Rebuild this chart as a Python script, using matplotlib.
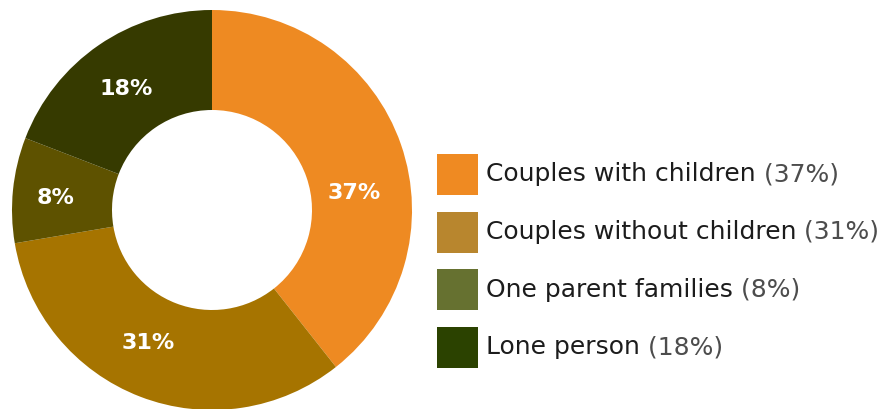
import matplotlib

matplotlib.use("Agg")
import matplotlib.pyplot as plt
from matplotlib.patches import Rectangle

# data
labels = ["Couples with children", "Couples without children",
          "One parent families", "Lone person"]
values = [37, 31, 8, 18]
pie_colors = ["#EE8A22", "#A67400", "#5E5200", "#363A00"]
legend_colors = ["#EF8A22", "#B8862E", "#667130", "#2B4200"]

# small label nudges (axes units, radius = 1) to mimic the original placement
nudges = [(0.0, -0.16), (-0.05, 0.035), (-0.035, -0.015), (-0.005, -0.015)]

W, H = 883, 409
fig = plt.figure(figsize=(W / 100, H / 100), dpi=100)
fig.patch.set_facecolor("white")

# donut: centre (212, 210) px from top-left, radius 200 px
cx, cy, r = 212, 210, 200
ax = fig.add_axes([(cx - r) / W, (H - cy - r) / H, 2 * r / W, 2 * r / H])
wedges, _, autotexts = ax.pie(
    values, colors=pie_colors, startangle=90, counterclock=False,
    radius=1, wedgeprops=dict(width=0.5, linewidth=0),
    autopct=lambda p: f"{p * sum(values) / 100:.0f}%", pctdistance=0.75,
    textprops=dict(color="white", fontsize=16, fontweight="bold"))
for t, (dx, dy) in zip(autotexts, nudges):
    x, y = t.get_position()
    t.set_position((x + dx, y + dy))
ax.set_xlim(-1, 1)
ax.set_ylim(-1, 1)
ax.set_aspect("equal")
ax.axis("off")

# legend, drawn in pixel coords
lax = fig.add_axes([0, 0, 1, 1])
lax.set_xlim(0, W)
lax.set_ylim(H, 0)
lax.axis("off")
top0, step, size = 154, 57.5, 41
for i, (lab, val, col) in enumerate(zip(labels, values, legend_colors)):
    y = top0 + i * step
    lax.add_patch(Rectangle((437, y), size, size, color=col, lw=0))
    t = lax.text(486, y + size / 2, lab, fontsize=18, color="#1c1c1c",
                 va="center", ha="left")
    lax.annotate(f" ({val}%)", xycoords=t, xy=(1, 0.5), va="center",
                 fontsize=18, color="#4d4d4d")

fig.savefig("out.png", dpi=100)
